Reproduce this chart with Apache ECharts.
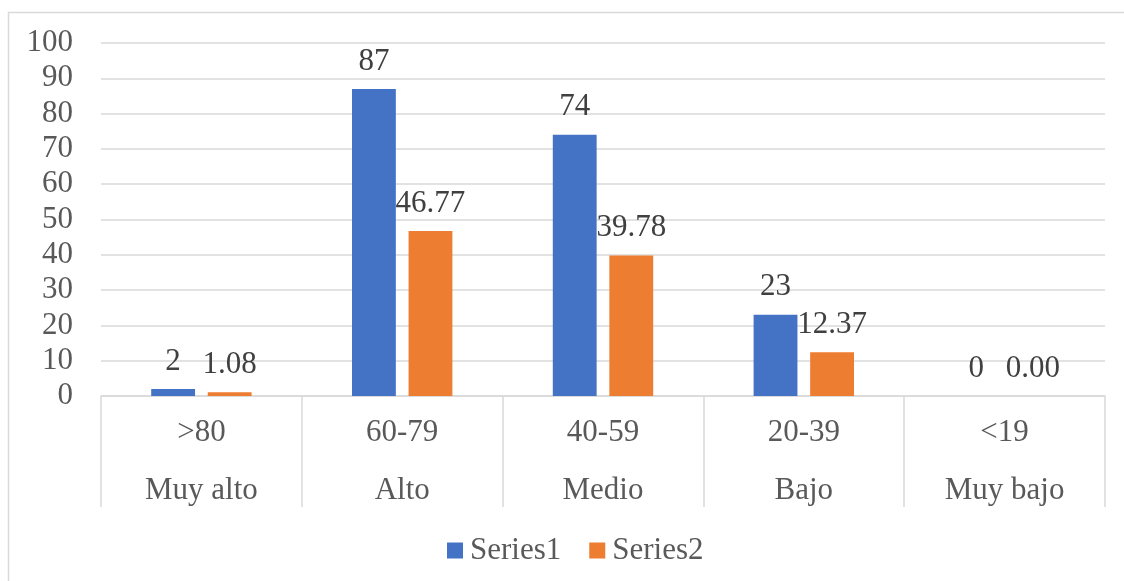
<!DOCTYPE html>
<html>
<head>
<meta charset="utf-8">
<script src="https://cdn.jsdelivr.net/npm/echarts@6/dist/echarts.min.js"></script>
<style>html,body{margin:0;padding:0;background:#fff}#c{width:1124px;height:581px}</style>
</head>
<body>
<div id="c"></div>
<script>
const ranges = ['>80', '60-79', '40-59', '20-39', '<19'];
const levels = ['Muy alto', 'Alto', 'Medio', 'Bajo', 'Muy bajo'];
const series1 = [2, 87, 74, 23, 0];
const series2 = [1.08, 46.77, 39.78, 12.37, 0.00];
const yTicks = { min: 0, max: 100, interval: 10 };

const FONT = 'Liberation Serif';
const FS = 31;
const categories = ranges.map((r, i) => r + '|' + levels[i]);
const chart = echarts.init(document.getElementById('c'), null, { renderer: 'canvas' });
const labelStyle = { show: true, position: 'top', distance: 12, fontFamily: FONT, fontSize: FS, color: '#404040' };
chart.setOption({
  animation: false,
  backgroundColor: '#fff',
  graphic: [{ type: 'rect', shape: { x: 8.5, y: 12.5, width: 1140, height: 620 }, style: { fill: 'none', stroke: '#d9d9d9', lineWidth: 1.5 }, z: -1 }],
  grid: { left: 101, right: 19, top: 43, bottom: 185 },
  legend: {
    bottom: 10, left: 442, itemWidth: 16, itemHeight: 16, itemGap: 28,
    icon: 'rect',
    textStyle: { fontFamily: FONT, fontSize: FS, color: '#595959', padding: [0, 0, 0, 2] },
    data: ['Series1', 'Series2']
  },
  xAxis: {
    type: 'category', data: categories,
    axisLine: { show: true, lineStyle: { color: '#d9d9d9', width: 1.5 } },
    axisTick: { show: true, length: 111, lineStyle: { color: '#d9d9d9', width: 1.5 } },
    axisLabel: {
      margin: 8, interval: 0,
      formatter: v => { const p = v.split('|'); return '{a|' + p[0] + '}\n{a|' + p[1] + '}'; },
      rich: { a: { fontFamily: FONT, fontSize: FS, color: '#595959', lineHeight: 58 } }
    }
  },
  yAxis: {
    type: 'value', min: yTicks.min, max: yTicks.max, interval: yTicks.interval,
    axisLine: { show: false }, axisTick: { show: false },
    splitLine: { lineStyle: { color: '#d9d9d9', width: 1.5 } },
    axisLabel: { margin: 28, fontFamily: FONT, fontSize: FS, color: '#595959' }
  },
  series: [
    { name: 'Series1', type: 'bar', data: series1, itemStyle: { color: '#4472C4' },
      barGap: '29%', barCategoryGap: '50%',
      label: Object.assign({}, labelStyle, { formatter: p => String(p.value) }) },
    { name: 'Series2', type: 'bar', data: series2, itemStyle: { color: '#ED7D31' },
      label: Object.assign({}, labelStyle, { formatter: p => Number(p.value).toFixed(2) }) }
  ]
});
</script>
</body>
</html>
